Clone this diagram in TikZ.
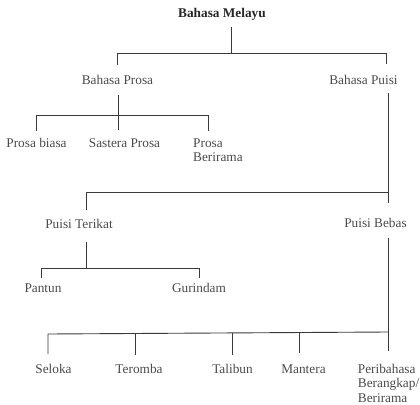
\documentclass[tikz,border=0pt]{standalone}
\usepackage{fontspec}
\setmainfont{Liberation Serif}
\definecolor{txt}{HTML}{4A4A4A}
\definecolor{ln}{HTML}{3A3A3A}
\begin{document}
\begin{tikzpicture}[x=1pt,y=-1pt,
  lbl/.style={text=txt, font=\fontsize{13.3}{14.5}\selectfont, inner sep=0pt, anchor=base},
  lbll/.style={lbl, anchor=base west, align=left},
  conn/.style={draw=ln, line width=0.9pt}]
\useasboundingbox (0,0) rectangle (420,404);
% nodes
\node[lbl, text=black!85, font=\fontsize{13.3}{14.5}\selectfont\bfseries] (melayu) at (222,18) {Bahasa Melayu};
\node[lbl] (prosa) at (117.5,84) {Bahasa Prosa};
\node[lbl] (puisi) at (363.5,84) {Bahasa Puisi};
\node[lbl] (biasa) at (36.5,147) {Prosa biasa};
\node[lbl] (sastera) at (124.5,147) {Sastera Prosa};
\node[lbll] (berirama) at (193,161.5) {Prosa\\Berirama};
\node[lbl] (terikat) at (79,228) {Puisi Terikat};
\node[lbl] (bebas) at (375.5,227) {Puisi Bebas};
\node[lbl] (pantun) at (43,292) {Pantun};
\node[lbl] (gurindam) at (199,292) {Gurindam};
\node[lbl] (seloka) at (53.5,373) {Seloka};
\node[lbl] (teromba) at (139,373) {Teromba};
\node[lbl] (talibun) at (232.5,373) {Talibun};
\node[lbl] (mantera) at (303.5,373) {Mantera};
\node[lbll] (peribahasa) at (357.7,402) {Peribahasa\\Berangkap/\\Berirama};
% junction coordinates
\coordinate (m0) at (231,27);   \coordinate (m1) at (231,53);
\coordinate (m2) at (117,53);   \coordinate (m3) at (386,53);
\coordinate (m4) at (117,65);   \coordinate (m5) at (386,64);
\coordinate (p0) at (118,95);   \coordinate (p1) at (118,130);
\coordinate (p2) at (36,115);   \coordinate (p3) at (208,115);
\coordinate (p4) at (36,131);   \coordinate (p5) at (208,131);
\coordinate (q0) at (388,93);   \coordinate (q1) at (388,203);
\coordinate (q2) at (86,192);   \coordinate (q3) at (388,192);
\coordinate (q4) at (86,210);
\coordinate (t0) at (86,242);   \coordinate (t1) at (86,268);
\coordinate (t2) at (41,268);   \coordinate (t3) at (199,268);
\coordinate (t4) at (41,278);   \coordinate (t5) at (199,278);
\coordinate (b0) at (388,238);  \coordinate (b1) at (388,351);
\coordinate (b2) at (48,334);   \coordinate (b3) at (388,332);
\coordinate (s1) at (48,354);   \coordinate (s2a) at (135,333.5); \coordinate (s2) at (135,355);
\coordinate (s3a) at (232,333); \coordinate (s3) at (232,355);
\coordinate (s4a) at (299,332.7); \coordinate (s4) at (299,353);
% connectors
\draw[conn] (m0) -- (m1);
\draw[conn] (m4) -- (m2) -- (m3) -- (m5);
\draw[conn] (p0) -- (p1);
\draw[conn] (p4) -- (p2) -- (p3) -- (p5);
\draw[conn] (q0) -- (q1);
\draw[conn] (q4) -- (q2) -- (q3);
\draw[conn] (t0) -- (t1);
\draw[conn] (t4) -- (t2) -- (t3) -- (t5);
\draw[conn] (b0) -- (b1);
\draw[conn] (s1) -- (b2) -- (b3);
\draw[conn] (s2a) -- (s2);
\draw[conn] (s3a) -- (s3);
\draw[conn] (s4a) -- (s4);
\end{tikzpicture}
\end{document}
